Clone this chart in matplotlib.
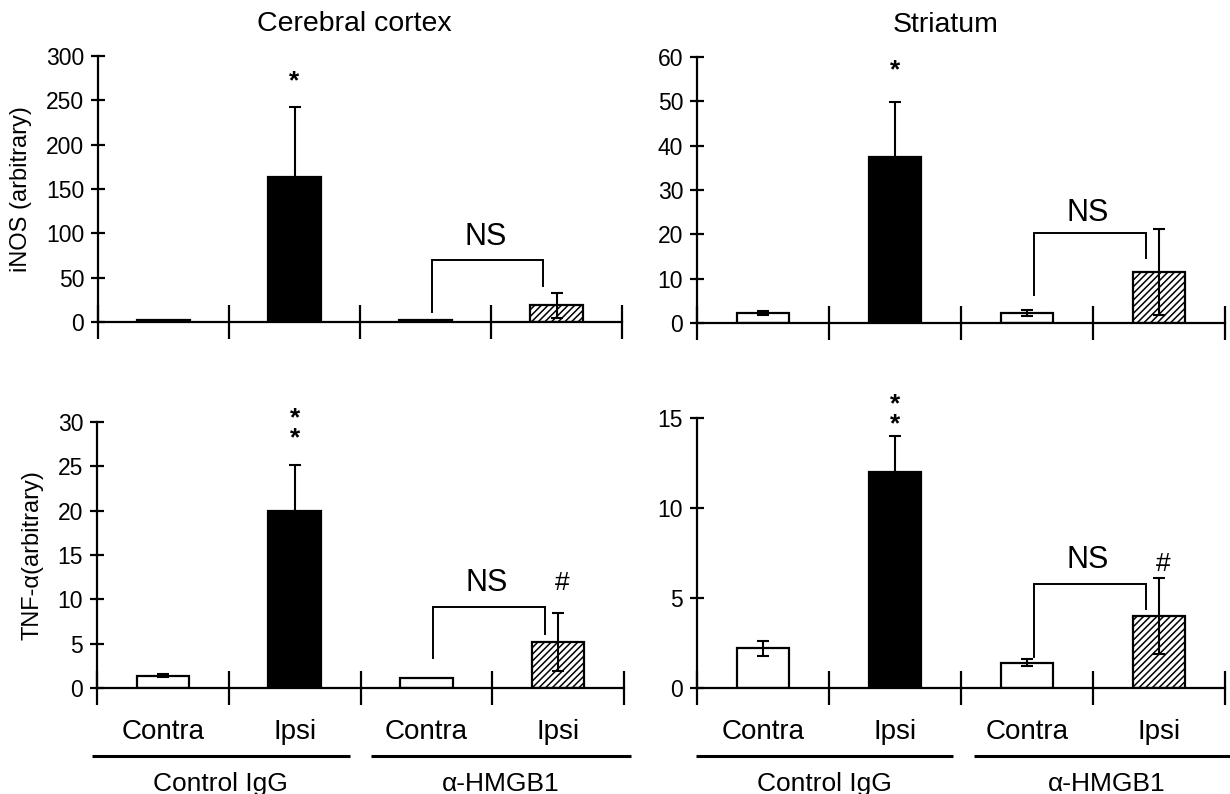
import matplotlib
matplotlib.use("Agg")
import matplotlib.pyplot as plt
import matplotlib.transforms as mtransforms
import numpy as np

plt.rcParams['font.family'] = ['Liberation Sans', 'DejaVu Sans']
plt.rcParams['hatch.color'] = '#8a8a8a'
plt.rcParams['hatch.linewidth'] = 1.1

# ---- data ----
conditions = ["Contra", "Ipsi", "Contra", "Ipsi"]
groups = ["Control IgG", "\u03b1-HMGB1"]

inos_cortex = [2.5, 164, 2.5, 19]
inos_cortex_err = [0.0, 79, 0.0, 14]
inos_striatum = [2.2, 37.5, 2.2, 11.5]
inos_striatum_err = [0.5, 12.3, 0.7, 9.7]
tnf_cortex = [1.4, 20.0, 1.1, 5.2]
tnf_cortex_err = [0.15, 5.1, 0.0, 3.3]
tnf_striatum = [2.2, 12.0, 1.4, 4.0]
tnf_striatum_err = [0.4, 2.0, 0.2, 2.1]

ylims = [300, 60, 30, 15]
ystep = [50, 10, 5, 5]
titles = ["Cerebral cortex", "Striatum"]
ylabels = ["iNOS (arbitrary)", "TNF-\u03b1(arbitrary)"]

# annotations (data units): star marks, NS bracket, NS label, hash
star_text = ["*", "*", "*\n*", "*\n*"]
star_y = [272, 57, 29.3, 15.2]
bracket = [(11, 70, 41), (6.3, 20.3, 14.7), (3.4, 9.1, 6.1), (1.7, 5.8, 4.4)]
ns_y = [96, 24.8, 11.8, 7.1]
hash_y = [None, None, 11.8, 6.9]

W, H = 1230, 794
fig = plt.figure(figsize=(W / 100, H / 100), dpi=100)

# axes rectangles in pixels: left, right, y0 (value 0), ytop
rects = [(98, 622, 322, 56), (697, 1225, 323, 57),
         (97, 624, 688, 422), (697, 1225, 688, 418)]

values = [inos_cortex, inos_striatum, tnf_cortex, tnf_striatum]
errs = [inos_cortex_err, inos_striatum_err, tnf_cortex_err, tnf_striatum_err]

faces = ['white', 'black', 'white', 'white']
hatches = [None, None, None, '/////']
x = np.arange(len(conditions)) + 0.5

for i in range(4):
    l, r, y0, yt = rects[i]
    ax = fig.add_axes([l / W, (H - y0) / H, (r - l) / W, (y0 - yt) / H])
    ax.set_xlim(0, 4)
    ax.set_ylim(0, ylims[i])
    for s in ['top', 'right']:
        ax.spines[s].set_visible(False)
    ax.spines['left'].set_linewidth(1.6)
    ax.spines['bottom'].set_linewidth(1.6)
    ax.spines['left'].set_bounds(0, ylims[i])

    for j in range(4):
        ax.bar(x[j], values[i][j], width=0.4, color=faces[j], edgecolor='black',
               linewidth=1.6, hatch=hatches[j], zorder=2)
        if errs[i][j] > 0:
            ax.errorbar(x[j], values[i][j], yerr=errs[i][j], fmt='none',
                        ecolor='black', elinewidth=1.5, capsize=4, capthick=1.5,
                        zorder=3)

    ax.set_yticks(np.arange(0, ylims[i] + 0.1, ystep[i]))
    ax.set_xticks([0, 1, 2, 3, 4])
    ax.set_xticklabels([])
    ax.tick_params(axis='y', direction='inout', length=10, width=1.6,
                   labelsize=16.5, pad=5)
    ax.tick_params(axis='x', which='major', direction='inout', length=24,
                   width=1.6)

    # stars
    ax.text(x[1], star_y[i], star_text[i], ha='center', va='center',
            fontsize=19, fontweight='bold', linespacing=0.75)
    # NS bracket
    lb, top, rb = bracket[i]
    ax.plot([2.55, 2.55, 3.4, 3.4], [lb, top, top, rb], color='black',
            lw=1.4, solid_joinstyle='miter', zorder=4)
    ax.text(2.96, ns_y[i], 'NS', ha='center', va='center', fontsize=22)
    if hash_y[i] is not None:
        ax.text(3.53, hash_y[i], '#', ha='center', va='center', fontsize=19)

    if i % 2 == 0:
        ax.set_ylabel(ylabels[i // 2], fontsize=17, labelpad=10)
    if i < 2:
        ax.text([0.49, 0.47][i], 1.0 + 32 / (y0 - yt), titles[i],
                transform=ax.transAxes, ha='center', va='center', fontsize=20.5)
    else:
        # category labels
        ax.set_xticks(x, minor=True)
        ax.set_xticklabels(conditions, minor=True, fontsize=20)
        ax.tick_params(axis='x', which='minor', length=0, pad=22)
        # group underlines and labels
        base = mtransforms.blended_transform_factory(ax.transData, ax.transAxes)
        trans_line = base + mtransforms.ScaledTranslation(0, -0.68, fig.dpi_scale_trans)
        trans_lab = base + mtransforms.ScaledTranslation(0, -0.96, fig.dpi_scale_trans)
        spans = [(-0.04, 1.92), (2.08, 4.05)] if i == 2 else [(-0.01, 1.94), (2.1, 4.1)]
        for g, (a, b) in enumerate(spans):
            ax.plot([a, b], [0, 0], transform=trans_line, color='black', lw=2.2,
                    clip_on=False, solid_capstyle='butt')
            ax.text((a + b) / 2, 0, groups[g], transform=trans_lab, ha='center',
                    va='center', fontsize=19)

fig.savefig('out.png', dpi=100)
